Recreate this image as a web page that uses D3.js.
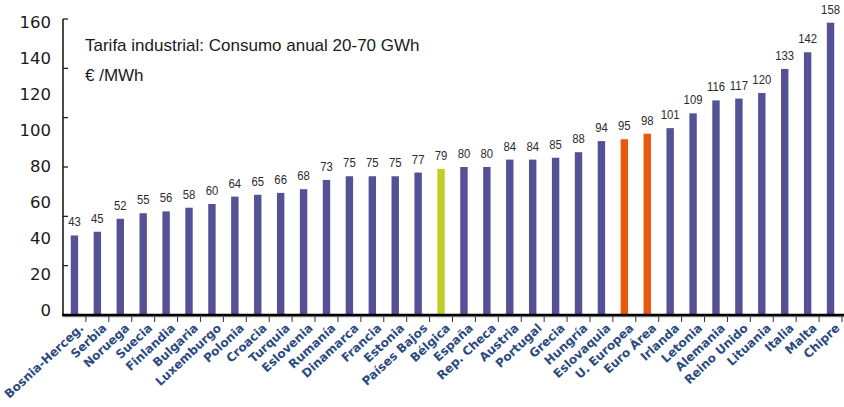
<!DOCTYPE html>
<html><head><meta charset="utf-8">
<script src="https://cdn.jsdelivr.net/npm/d3@7"></script>
<style>body{margin:0;background:#fff}svg{display:block}</style>
</head><body>
<svg id="c" width="844" height="407"></svg>
<script>
const categories = ["Bosnia-Herceg.","Serbia","Noruega","Suecia","Finlandia","Bulgaria","Luxemburgo","Polonia","Croacia","Turquia","Eslovenia","Rumanía","Dinamarca","Francia","Estonia","Países Bajos","Bélgica","España","Rep. Checa","Austria","Portugal","Grecia","Hungría","Eslovaquia","U. Europea","Euro Área","Irlanda","Letonia","Alemania","Reino Unido","Lituania","Italia","Malta","Chipre"];
const values = [43,45,52,55,56,58,60,64,65,66,68,73,75,75,75,77,79,80,80,84,84,85,88,94,95,98,101,109,116,117,120,133,142,158];
const highlightGreen = ["Bélgica"];
const highlightOrange = ["U. Europea","Euro Área"];
const yTickLabels = [0,20,40,60,80,100,120,140,160];
const yTickMarks = [0,160/6,320/6,80,640/6,800/6,160];
const title = "Tarifa industrial: Consumo anual 20-70 GWh";
const unit = "€ /MWh";

const svg = d3.select("#c");
const x0 = 63, x1 = 842, yBase = 315, yTop = 19;
const x = d3.scaleBand().domain(categories).range([x0, x1]).paddingInner(0).paddingOuter(0);
const y = d3.scaleLinear().domain([0,160]).range([yBase, yTop]);
const barW = 7.4;
const colorOf = c => highlightGreen.includes(c) ? "#bfcf25" : highlightOrange.includes(c) ? "#e8590d" : "#545196";

// bars
svg.append("g").selectAll("rect").data(categories).join("rect")
  .attr("x", c => x(c) + x.bandwidth()/2 - barW/2)
  .attr("width", barW)
  .attr("y", (c,i) => y(values[i]))
  .attr("height", (c,i) => y(0) - y(values[i]))
  .attr("fill", colorOf);

// value labels
svg.append("g").selectAll("text").data(categories).join("text")
  .attr("transform", (c,i) => `translate(${x(c) + x.bandwidth()/2},${y(values[i]) - 9}) scale(0.84,1)`)
  .attr("text-anchor","middle")
  .attr("font-family","'Liberation Sans','Arial',sans-serif")
  .attr("font-size", 13.5)
  .attr("fill","#2b2b2b")
  .text((c,i) => values[i]);

// y axis line + ticks (inner)
const ya = svg.append("g");
ya.append("line").attr("x1",x0).attr("x2",x0).attr("y1",y(160)).attr("y2",yBase).attr("stroke","#111").attr("stroke-width",1.5);
ya.selectAll("line.t").data(yTickMarks).join("line").attr("class","t")
  .attr("x1",x0).attr("x2",x0+5).attr("y1",d=>y(d)).attr("y2",d=>y(d)).attr("stroke","#111").attr("stroke-width",1.2);
ya.selectAll("text").data(yTickLabels).join("text")
  .attr("x", 51)
  .attr("y", d => y(d) - 5 + d*0.05)
  .attr("dy","0.35em")
  .attr("text-anchor","end")
  .attr("font-family","'DejaVu Sans',sans-serif")
  .attr("font-size",16.5)
  .attr("fill","#1a1a1a")
  .text(d=>d);

// x axis
const xa = svg.append("g");
xa.append("line").attr("x1",x0).attr("x2",844).attr("y1",yBase+1.5).attr("y2",yBase+1.5).attr("stroke","#999").attr("stroke-width",1.5);
xa.append("line").attr("x1",x0-1).attr("x2",844).attr("y1",yBase).attr("y2",yBase).attr("stroke","#000").attr("stroke-width",2.5);
xa.selectAll("line.t").data(categories.slice(1).concat(["_end"])).join("line").attr("class","t")
  .attr("x1",(c,i)=>x0 + (i+1)*x.bandwidth()).attr("x2",(c,i)=>x0 + (i+1)*x.bandwidth())
  .attr("y1",yBase).attr("y2",yBase+7).attr("stroke","#333").attr("stroke-width",1);
xa.selectAll("text").data(categories).join("text")
  .attr("transform", c => `translate(${x(c)+x.bandwidth()/2+10},${yBase+14}) rotate(-43)`)
  .attr("text-anchor","end")
  .attr("font-family","'DejaVu Sans',sans-serif")
  .attr("font-size",12)
  .attr("font-weight","bold")
  .attr("fill","#2c4a80")
  .text(c=>c);

// titles
svg.append("text").attr("x",85).attr("y",51).attr("font-family","'Liberation Sans','Arial',sans-serif")
  .attr("font-size",17).attr("fill","#1a1a1a").text(title);
svg.append("text").attr("x",85).attr("y",81).attr("font-family","'Liberation Sans','Arial',sans-serif")
  .attr("font-size",17).attr("fill","#1a1a1a").text(unit);
</script>
</body></html>
